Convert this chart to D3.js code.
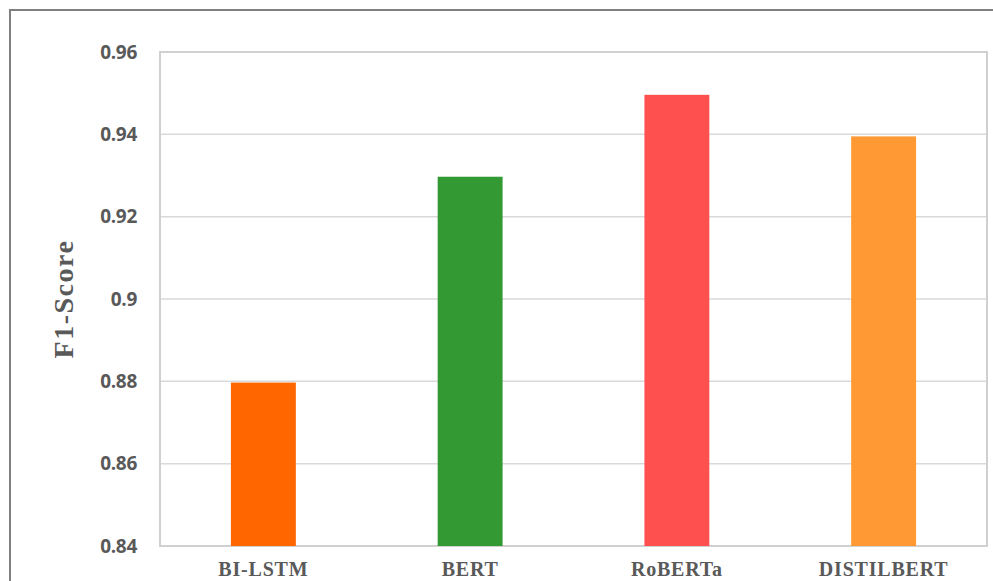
<!DOCTYPE html>
<html>
<head>
<meta charset="utf-8">
<script src="https://cdn.jsdelivr.net/npm/d3@7"></script>
<style>
  html, body { margin: 0; padding: 0; background: #fff; }
  svg { display: block; }
</style>
</head>
<body>
<svg id="chart" width="993" height="581"></svg>
<script>
// F1-score per model
const models = ["BI-LSTM", "BERT", "RoBERTa", "DISTILBERT"];
const f1Scores = [0.8797, 0.9297, 0.9496, 0.9395];
const barColors = ["#ff6600", "#339933", "#ff5050", "#ff9933"];
const yTicks = [0.84, 0.86, 0.88, 0.9, 0.92, 0.94, 0.96];
const yTickLabels = ["0.84", "0.86", "0.88", "0.9", "0.92", "0.94", "0.96"];

const W = 993, H = 581;
const plot = { left: 160, top: 52, right: 987, bottom: 546 };

const svg = d3.select("#chart");

// outer frame (runs off the right and bottom edges)
svg.append("path")
  .attr("d", `M10,${H + 5} L10,10 L${W + 5},10`)
  .attr("fill", "none")
  .attr("stroke", "#7f7f7f")
  .attr("stroke-width", 2);

const x = d3.scaleBand()
  .domain(models)
  .range([plot.left, plot.right])
  .paddingInner(0.686)
  .paddingOuter(0.343);

const y = d3.scaleLinear()
  .domain([0.84, 0.96])
  .range([plot.bottom, plot.top]);

// horizontal gridlines
svg.append("g")
  .selectAll("line")
  .data(yTicks)
  .join("line")
  .attr("x1", plot.left)
  .attr("x2", plot.right)
  .attr("y1", d => y(d))
  .attr("y2", d => y(d))
  .attr("stroke", "#d9d9d9")
  .attr("stroke-width", 1.5);

// plot area border
svg.append("rect")
  .attr("x", plot.left)
  .attr("y", plot.top)
  .attr("width", plot.right - plot.left)
  .attr("height", plot.bottom - plot.top)
  .attr("fill", "none")
  .attr("stroke", "#d0d0d0")
  .attr("stroke-width", 2);

// bars
svg.append("g")
  .selectAll("rect")
  .data(models)
  .join("rect")
  .attr("x", d => x(d))
  .attr("width", x.bandwidth())
  .attr("y", (d, i) => y(f1Scores[i]))
  .attr("height", (d, i) => plot.bottom - y(f1Scores[i]))
  .attr("fill", (d, i) => barColors[i]);

// y axis labels
const yAxis = d3.axisLeft(y)
  .tickValues(yTicks)
  .tickFormat((d, i) => yTickLabels[i])
  .tickSize(0)
  .tickPadding(0);

const yg = svg.append("g")
  .attr("transform", `translate(137,0)`)
  .call(yAxis);
yg.select(".domain").remove();
yg.selectAll("text")
  .attr("fill", "#595959")
  .attr("font-family", "'Open Sans', Lato, sans-serif")
  .attr("font-weight", "bold")
  .attr("font-size", "19px")
  .attr("letter-spacing", "-0.3px");

// x axis labels
const xAxis = d3.axisBottom(x).tickSize(0).tickPadding(0);
const xg = svg.append("g")
  .attr("transform", `translate(0,${plot.bottom + 16})`)
  .call(xAxis);
xg.select(".domain").remove();
xg.selectAll("text")
  .attr("fill", "#595959")
  .attr("font-family", "'Liberation Serif', 'Times New Roman', serif")
  .attr("font-weight", "bold")
  .attr("font-size", "20px")
  .attr("letter-spacing", "0.8px");

// y axis title
svg.append("text")
  .attr("transform", `translate(73,${(plot.top + plot.bottom) / 2}) rotate(-90)`)
  .attr("text-anchor", "middle")
  .attr("fill", "#595959")
  .attr("font-family", "'Liberation Serif', 'Times New Roman', serif")
  .attr("font-weight", "bold")
  .attr("font-size", "28px")
  .attr("letter-spacing", "1.5px")
  .text("F1-Score");
</script>
</body>
</html>
